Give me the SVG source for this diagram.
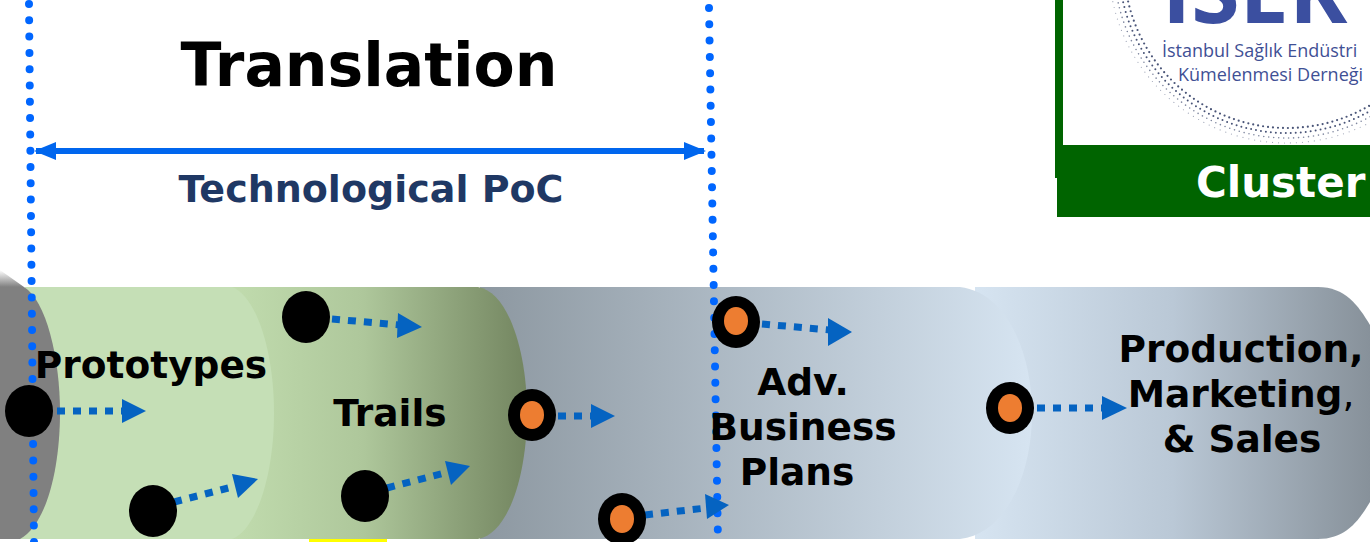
<svg xmlns="http://www.w3.org/2000/svg" width="1370" height="542" viewBox="0 0 1370 542">
<style>
text{font-family:"DejaVu Sans",Verdana,sans-serif;font-weight:700;fill:#000}
.lbl{font-size:37.5px;text-anchor:middle}
.dot{fill:none;stroke:#0066ff;stroke-width:8;stroke-linecap:round;stroke-dasharray:0 16.3}
.flow{fill:none;stroke:#0563c1;stroke-width:7;stroke-dasharray:8 8}
.head{fill:#0563c1}
.ring{fill:none;stroke:#4a5578;stroke-linecap:round}
.logo{font-family:"Open Sans","Noto Sans",sans-serif;font-weight:400;fill:#3f5095;font-size:18px}
</style>
<defs>
<linearGradient id="gMid" gradientUnits="userSpaceOnUse" x1="490" y1="0" x2="1030" y2="0"><stop offset="0" stop-color="#8e99a2"/><stop offset="1" stop-color="#d6e4f1"/></linearGradient>
<linearGradient id="gEnd" gradientUnits="userSpaceOnUse" x1="975" y1="0" x2="1370" y2="0"><stop offset="0" stop-color="#d6e4f1"/><stop offset="0.5" stop-color="#bac8d6"/><stop offset="1" stop-color="#87919a"/></linearGradient>
<linearGradient id="gGreen" gradientUnits="userSpaceOnUse" x1="230" y1="0" x2="527" y2="0"><stop offset="0" stop-color="#c1dcae"/><stop offset="0.45" stop-color="#aec79b"/><stop offset="1" stop-color="#738560"/></linearGradient>
<linearGradient id="gShadow" x1="0" y1="1" x2="0" y2="0"><stop offset="0" stop-color="#808080"/><stop offset="1" stop-color="#808080" stop-opacity="0"/></linearGradient>
<clipPath id="cLogo"><rect x="1063" y="0" width="307" height="145"/></clipPath>
<marker id="mEnd" markerUnits="userSpaceOnUse" markerWidth="22" markerHeight="18" refX="20" refY="9" orient="auto"><path d="M0,0 L22,9 L0,18Z" fill="#0066ee"/></marker>
<marker id="mStart" markerUnits="userSpaceOnUse" markerWidth="22" markerHeight="18" refX="2" refY="9" orient="auto"><path d="M22,0 L0,9 L22,18Z" fill="#0066ee"/></marker>
</defs>
<rect width="1370" height="542" fill="#fff"/>

<g id="pipe">
<rect x="309" y="539" width="78" height="3" fill="#ffff00"/>
<path d="M0,270 L24,287 H0Z" fill="url(#gShadow)"/>
<path d="M975,287 H1318 C1345,287 1358,305 1370,325 V502 C1358,522 1345,539 1318,539 H975 Z" fill="url(#gEnd)"/>
<path d="M480,287 H960 C1005,292 1032,350 1032,413 C1032,476 1005,534 960,539 H480 Z" fill="url(#gMid)"/>
<path d="M230,287 H478 C508,292 527,350 527,413 C527,476 508,534 478,539 H230 Z" fill="url(#gGreen)"/>
<path d="M25,287 H232 C256,296 274,350 274,413 C274,476 256,530 232,539 H20 Z" fill="#c5dfb6"/>
<path d="M0,287 H24 C46,300 60,358 60,412 C60,470 46,525 20,539 H0 Z" fill="#808080"/>
</g>

<g id="connectors">
<path class="dot" d="M29,4 L34,542"/>
<path class="dot" d="M709,8 L718,542"/>
<path d="M36,151 H704" fill="none" stroke="#0066ee" stroke-width="6" marker-start="url(#mStart)" marker-end="url(#mEnd)"/>
<path class="flow" d="M57,411 H124"/><path class="head" d="M122,399 L146,411 L122,423Z"/>
<path class="flow" d="M174,502 L236,486"/><path class="head" d="M232,474 L258,479 L238,498Z"/>
<path class="flow" d="M332,319 L400,325"/><path class="head" d="M398,313 L422,327 L397,338Z"/>
<path class="flow" d="M387,488 L448,472"/><path class="head" d="M445,461 L470,466 L451,485Z"/>
<path class="flow" d="M558,416 H592"/><path class="head" d="M591,404 L615,416 L591,428Z"/>
<path class="flow" d="M645,515 L706,508"/><path class="head" d="M705,494 L729,505 L707,519Z"/>
<path class="flow" d="M762,324 L830,330"/><path class="head" d="M828,318 L852,332 L828,346Z"/>
<path class="flow" d="M1037,408 H1104"/><path class="head" d="M1102,396 L1127,408 L1102,420Z"/>
</g>

<g id="n1"><ellipse cx="29" cy="411" rx="24" ry="26"/></g>
<g id="n2"><ellipse cx="153" cy="511" rx="24" ry="26"/></g>
<g id="n3"><ellipse cx="306" cy="317" rx="24" ry="26"/></g>
<g id="n4"><ellipse cx="365" cy="496" rx="24" ry="26"/></g>
<g id="n5"><ellipse cx="532" cy="415" rx="24" ry="26"/><ellipse cx="532" cy="415" rx="12" ry="14" fill="#ed7d31"/></g>
<g id="n6"><ellipse cx="622" cy="519" rx="24" ry="26"/><ellipse cx="622" cy="519" rx="12" ry="14" fill="#ed7d31"/></g>
<g id="n7"><ellipse cx="736" cy="322" rx="24" ry="26"/><ellipse cx="736" cy="321" rx="12" ry="14" fill="#ed7d31"/></g>
<g id="n8"><ellipse cx="1010" cy="408" rx="24" ry="26"/><ellipse cx="1010" cy="408" rx="12" ry="14" fill="#ed7d31"/></g>

<g id="labels">
<text x="369" y="86" font-size="60" text-anchor="middle">Translation</text>
<text x="371" y="202" font-size="38" text-anchor="middle" style="fill:#1f3864">Technological PoC</text>
<text class="lbl" x="151" y="378">Prototypes</text>
<text class="lbl" x="390" y="426">Trails</text>
<text class="lbl" x="803" y="395">Adv.</text>
<text class="lbl" x="803" y="440">Business</text>
<text class="lbl" x="797" y="485">Plans</text>
<text class="lbl" x="1241" y="362">Production,</text>
<text class="lbl" x="1241" y="407">Marketing<tspan font-weight="400">,</tspan></text>
<text class="lbl" x="1242" y="452">&amp; Sales</text>
</g>

<g id="cluster">
<path d="M1055,0 H1063 V145 H1370 V217 H1057 V178 H1055 Z" fill="#006400"/>
<g clip-path="url(#cLogo)">
<circle class="ring" cx="1287" cy="-35" r="163" stroke-width="2.2" stroke-dasharray="0 5"/>
<circle class="ring" cx="1287" cy="-35" r="168" stroke-width="2" stroke-dasharray="0 5"/>
<circle class="ring" cx="1287" cy="-35" r="173" stroke-width="1.6" stroke-dasharray="0 5" opacity=".7"/>
<circle class="ring" cx="1287" cy="-35" r="178" stroke-width="1.2" stroke-dasharray="0 6" opacity=".5"/>
<text x="1162" y="23" font-size="88" style="font-family:'Open Sans',sans-serif;fill:#3b4fa0;font-weight:700">ISEK</text>
<text class="logo" x="1162" y="57">İstanbul Sağlık Endüstri</text>
<text class="logo" x="1178" y="81">Kümelenmesi Derneği</text>
</g>
<text x="1196" y="197" font-size="42" style="fill:#fff">Cluster</text>
</g>
</svg>
